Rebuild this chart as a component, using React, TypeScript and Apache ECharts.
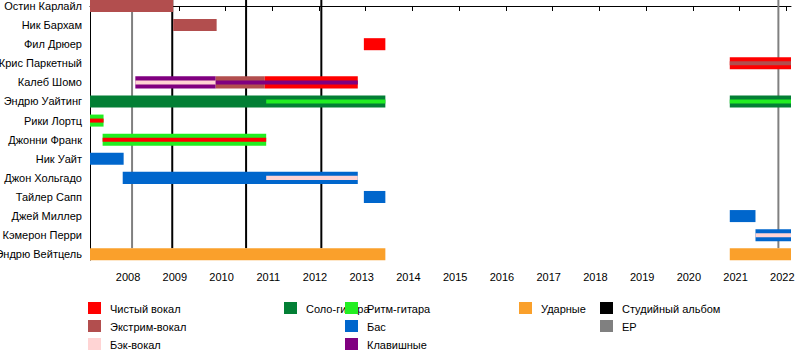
import React, { useEffect, useRef } from "react";
import * as echarts from "echarts";

// ---------- data ----------
const members = [
  "Остин Карлайл",
  "Ник Бархам",
  "Фил Дрюер",
  "Крис Паркетный",
  "Калеб Шомо",
  "Эндрю Уайтинг",
  "Рики Лортц",
  "Джонни Франк",
  "Ник Уайт",
  "Джон Хольгадо",
  "Тайлер Сапп",
  "Джей Миллер",
  "Кэмерон Перри",
  "Эндрю Вейтцель",
];

const roles = [
  "Чистый вокал",
  "Экстрим-вокал",
  "Бэк-вокал",
  "Соло-гитара",
  "Ритм-гитара",
  "Бас",
  "Клавишные",
  "Ударные",
];

const markerNames = ["Студийный альбом", "EP"];

const yearTicks = [2008, 2009, 2010, 2011, 2012, 2013, 2014, 2015, 2016, 2017, 2018, 2019, 2020, 2021, 2022];
const timelineStart = 2007.1;
const timelineEnd = 2022.1;

// main bars: [member index, role index, start, end]
const mainBars = [
  [0, 1, 2007.1, 2008.88],
  [1, 1, 2008.88, 2009.81],
  [2, 0, 2012.96, 2013.42],
  [3, 0, 2020.79, 2022.1],
  [4, 6, 2008.07, 2009.79],
  [4, 1, 2009.79, 2010.84],
  [4, 0, 2010.84, 2012.83],
  [5, 3, 2007.1, 2013.42],
  [5, 3, 2020.79, 2022.1],
  [6, 4, 2007.1, 2007.39],
  [7, 4, 2007.37, 2010.87],
  [8, 5, 2007.1, 2007.82],
  [9, 5, 2007.8, 2012.83],
  [10, 5, 2012.96, 2013.42],
  [11, 5, 2020.79, 2021.34],
  [12, 5, 2021.34, 2022.1],
  [13, 7, 2007.1, 2013.42],
  [13, 7, 2020.79, 2022.1],
];

// secondary (thin) bars: [member index, role index, start, end]
const stripeBars = [
  [3, 1, 2020.79, 2022.1],
  [4, 2, 2008.07, 2009.79],
  [4, 6, 2009.79, 2012.83],
  [5, 4, 2010.87, 2013.42],
  [5, 4, 2020.79, 2022.1],
  [6, 0, 2007.1, 2007.39],
  [7, 0, 2007.37, 2010.87],
  [9, 2, 2010.87, 2012.83],
  [12, 2, 2021.34, 2022.1],
];

const studioAlbums = [2008.86, 2010.44, 2012.05];
const epReleases = [2008.0, 2021.83];

// ---------- styles ----------
const roleColors = ["#FF0000", "#B24E4E", "#FFD4D4", "#037F35", "#22EE22", "#0066CC", "#800080", "#FAA02B"];
const markerColors = ["#000000", "#808080"];
const FONT = '"Liberation Sans", Arial, sans-serif';

// legend layout: [x of swatch, row]
const roleLegendPos = [
  [88, 0],
  [88, 1],
  [88, 2],
  [284, 0],
  [345, 0],
  [345, 1],
  [345, 2],
  [519, 0],
];
const markerLegendPos = [
  [600, 0],
  [600, 1],
];

export default function App() {
  const ref = useRef<HTMLDivElement>(null);

  useEffect(() => {
    if (!ref.current) return;
    const chart = echarts.init(ref.current, undefined, { renderer: "svg" });

    const barFrac = 0.63;
    const stripeFrac = 0.21;

    const barData = [
      ...mainBars.map((b) => [b[2], b[3], b[0], b[1], 0]),
      ...stripeBars.map((b) => [b[2], b[3], b[0], b[1], 1]),
    ];
    const lineData = [
      ...studioAlbums.map((d) => [d, 0]),
      ...epReleases.map((d) => [d, 1]),
    ];

    const legendGraphics: any[] = [];
    const addLegend = (name: string, color: string, pos: number[]) => {
      const y = 302 + pos[1] * 18;
      legendGraphics.push({
        type: "rect",
        shape: { x: pos[0], y, width: 13, height: 12 },
        style: { fill: color },
        z: 10,
      });
      legendGraphics.push({
        type: "text",
        x: pos[0] + 22,
        y: y + 7,
        style: {
          text: name,
          fill: "#000",
          font: `11px ${FONT}`,
          verticalAlign: "middle",
          align: "left",
        },
        z: 9,
      });
    };
    roles.forEach((r, i) => addLegend(r, roleColors[i], roleLegendPos[i]));
    markerNames.forEach((m, i) => addLegend(m, markerColors[i], markerLegendPos[i]));

    chart.setOption({
      animation: false,
      backgroundColor: "#ffffff",
      grid: {
        left: 90,
        right: 9,
        top: 0,
        bottom: 100,
        containLabel: false,
        outerBoundsMode: "none",
      },
      xAxis: {
        type: "value",
        min: timelineStart,
        max: timelineEnd,
        splitLine: { show: false },
        axisLine: { show: true, lineStyle: { color: "#000", width: 1 } },
        axisTick: {
          show: true,
          length: 5,
          customValues: yearTicks,
          lineStyle: { color: "#000" },
        },
        axisLabel: {
          customValues: yearTicks,
          formatter: (v: number) => String(Math.round(v)),
          color: "#000",
          fontFamily: FONT,
          fontSize: 11,
          margin: 11,
          padding: [0, 8, 0, 0],
        },
      },
      yAxis: {
        type: "value",
        inverse: true,
        min: -0.314,
        max: 13.3,
        splitLine: { show: false },
        axisLine: { show: true, lineStyle: { color: "#000", width: 1 } },
        axisTick: { show: false },
        axisLabel: {
          customValues: members.map((_, i) => i),
          formatter: (v: number) => members[Math.round(v)] ?? "",
          color: "#000",
          fontFamily: FONT,
          fontSize: 11,
          margin: 8,
        },
      },
      series: [
        {
          type: "custom",
          z: 1,
          encode: { x: 0 },
          data: lineData,
          renderItem: (params: any, api: any) => {
            const d = api.value(0);
            const kind = api.value(1);
            const x = api.coord([d, 0])[0];
            const band = Math.abs(api.size([0, 1])[1]);
            const top = params.coordSys.y;
            const bottom = api.coord([d, members.length - 1])[1] - (band * barFrac) / 2;
            return {
              type: "line",
              shape: { x1: x, y1: top, x2: x, y2: bottom },
              style: { stroke: markerColors[kind], lineWidth: 2 },
            };
          },
        },
        {
          type: "custom",
          z: 2,
          encode: { x: [0, 1], y: 2 },
          data: barData,
          renderItem: (params: any, api: any) => {
            const s = api.value(0);
            const e = api.value(1);
            const row = api.value(2);
            const role = api.value(3);
            const kind = api.value(4);
            const p0 = api.coord([s, row]);
            const p1 = api.coord([e, row]);
            const band = Math.abs(api.size([0, 1])[1]);
            const h = band * (kind === 0 ? barFrac : stripeFrac);
            return {
              type: "rect",
              z2: kind === 0 ? 1 : 2,
              shape: { x: p0[0], y: p0[1] - h / 2, width: p1[0] - p0[0], height: h },
              style: { fill: roleColors[role] },
            };
          },
        },
      ],
      graphic: legendGraphics,
    });

    return () => chart.dispose();
  }, []);

  return (
    <div
      ref={ref}
      style={{ position: "fixed", left: 0, top: 0, width: 800, height: 360, background: "#fff" }}
    />
  );
}
